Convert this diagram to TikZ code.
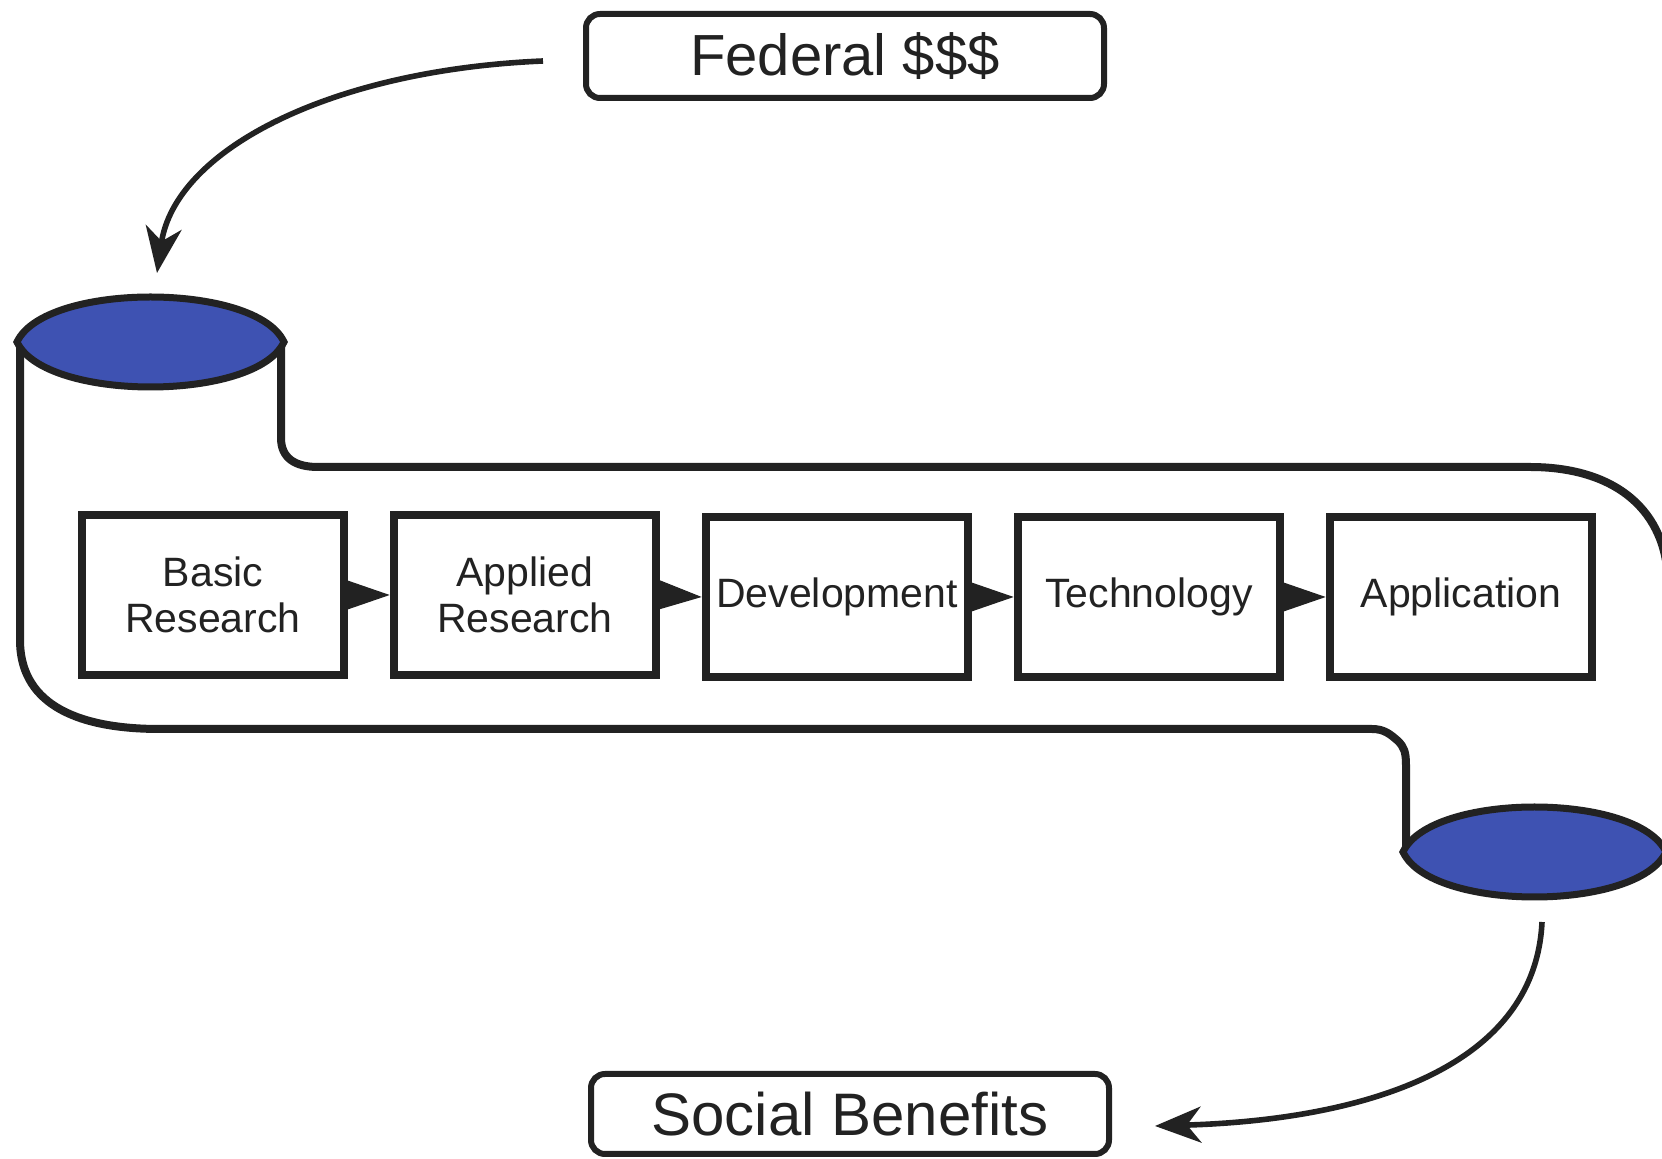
\documentclass[tikz,border=0pt]{standalone}
\usepackage{fontspec}
\setmainfont{Liberation Sans}
\usetikzlibrary{arrows.meta}
\definecolor{cylblue}{RGB}{62,82,178}
\definecolor{ink}{RGB}{34,34,34}
\begin{document}
\begin{tikzpicture}[x=0.5pt,y=-0.5pt,
  stagebox/.style={draw=ink, line width=4.3pt, minimum width=131pt, minimum height=80pt, inner sep=0pt, align=center, font=\fontsize{20.5}{23}\selectfont, text=ink},
  labelbox/.style={draw=ink, line width=3pt, rounded corners=7pt, minimum width=259pt, minimum height=42pt, inner sep=0pt, text=ink},
  flowarrow/.style={draw=ink, line width=0.6pt, -{Triangle[length=22pt,width=15pt]}},
  band/.style={draw=ink, line width=4pt},
  lens/.style={draw=ink, line width=3.5pt, fill=cylblue},
  curvearrow/.style={draw=ink, line width=2.8pt, -{Stealth[length=23pt,width=18pt,inset=7pt]}}
]
\useasboundingbox (0,0) rectangle (1662,1159);

% band (ribbon) outlines
\draw[band] (20,342) -- (20,640) .. controls (20,700) and (70,729) .. (160,729)
  -- (1372,729) .. controls (1384,729) and (1390,734) .. (1398,741)
  .. controls (1404,747) and (1406,752) .. (1406,765) -- (1406,852);
\draw[band] (281,342) -- (281,438) .. controls (281,458) and (295,467) .. (318,467)
  -- (1530,467) .. controls (1615,467) and (1668,510) .. (1668,585) -- (1668,852);

% cylinder ends
\draw[lens] (17,342) .. controls (45,282) and (256,282) .. (284,342)
  .. controls (256,402) and (45,402) .. (17,342) -- cycle;
\draw[lens] (1403,852) .. controls (1431,792) and (1638,792) .. (1666,852)
  .. controls (1638,912) and (1431,912) .. (1403,852) -- cycle;

% stages
\node[stagebox] (basic) at (213,595) {Basic\\Research};
\node[stagebox] (applied) at (525,595) {Applied\\Research};
\node[stagebox] (devel) at (837,597) {Development};
\node[stagebox] (techno) at (1149,597) {Technology};
\node[stagebox] (appl) at (1461,597) {Application};

\draw[flowarrow] (basic.east) -- (applied.west);
\draw[flowarrow] (applied.east) -- (devel.west);
\draw[flowarrow] (devel.east) -- (techno.west);
\draw[flowarrow] (techno.east) -- (appl.west);

% label boxes
\node[labelbox, font=\fontsize{29}{34}\selectfont] (fed) at (845,56) {Federal \$\$\$};
\node[labelbox, minimum height=40pt, font=\fontsize{30}{34}\selectfont] (soc) at (850,1114) {Social Benefits};

% curved arrows
\coordinate (fedtail) at (543,61);
\coordinate (toptip) at (157,273);
\coordinate (bottail) at (1542,922);
\coordinate (soctip) at (1155,1126);
\draw[curvearrow] (fedtail) .. controls (330,70) and (175,150) .. (toptip);
\draw[curvearrow] (bottail) .. controls (1535,1070) and (1360,1120) .. (soctip);
\end{tikzpicture}
\end{document}
